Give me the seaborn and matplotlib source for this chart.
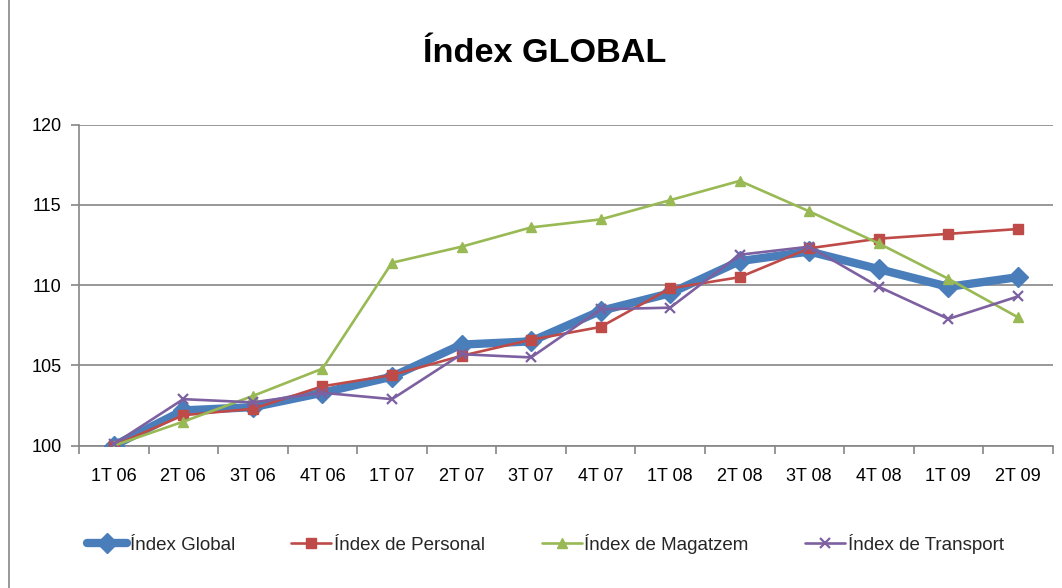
import numpy as np
import pandas as pd
import matplotlib
matplotlib.use("Agg")
import matplotlib.pyplot as plt
import seaborn as sns
from matplotlib.lines import Line2D

categories = ["1T 06", "2T 06", "3T 06", "4T 06", "1T 07", "2T 07", "3T 07",
              "4T 07", "1T 08", "2T 08", "3T 08", "4T 08", "1T 09", "2T 09"]
global_idx = [100.0, 102.2, 102.4, 103.3, 104.3, 106.3, 106.5, 108.4, 109.5, 111.5, 112.1, 111.0, 109.9, 110.5]
personal_idx = [100.0, 101.9, 102.3, 103.7, 104.4, 105.6, 106.6, 107.4, 109.8, 110.5, 112.3, 112.9, 113.2, 113.5]
magatzem_idx = [100.0, 101.5, 103.1, 104.8, 111.4, 112.4, 113.6, 114.1, 115.3, 116.5, 114.6, 112.6, 110.4, 108.0]
transport_idx = [100.1, 102.9, 102.7, 103.3, 102.9, 105.7, 105.5, 108.5, 108.6, 111.9, 112.4, 109.9, 107.9, 109.3]
series_names = ["Índex Global", "Índex de Personal", "Índex de Magatzem", "Índex de Transport"]
y_ticks = [100, 105, 110, 115, 120]

sns.set_theme(style="white")
plt.rcParams["font.family"] = ["Liberation Sans", "DejaVu Sans"]

W, H = 1062, 588
fig = plt.figure(figsize=(W / 100, H / 100), dpi=100)
ax = fig.add_axes([79 / W, 1 - 445.7 / H, (1052.7 - 79) / W, (445.7 - 124.7) / H])

xpos = np.arange(len(categories))
styles = [
    dict(color="#4A7EBB", lw=6, marker="D", ms=10.5, mec="#4A7EBB", mfc="#4A7EBB"),
    dict(color="#BE4B48", lw=1.9, marker="s", ms=6.5, mec="#BE4B48", mfc="#BE4B48"),
    dict(color="#98B954", lw=1.9, marker="^", ms=7.5, mec="#98B954", mfc="#98B954"),
    dict(color="#7D60A0", lw=1.9, marker="x", ms=7, mec="#7D60A0", mew=1.6),
]
for vals, name, st, z in zip([global_idx, personal_idx, magatzem_idx, transport_idx],
                             series_names, styles, [3, 4, 5, 6]):
    sns.lineplot(x=xpos, y=vals, ax=ax, sort=False, label=name,
                 linewidth=st["lw"], color=st["color"], marker=st["marker"],
                 markersize=st["ms"], markeredgecolor=st["mec"],
                 markerfacecolor=st.get("mfc", st["color"]),
                 markeredgewidth=st.get("mew", 1.0), zorder=z)

ax.set_xlim(-0.5, len(categories) - 0.5)
ax.set_ylim(100, 120)
ax.set_yticks(y_ticks)
ax.set_yticklabels([str(t) for t in y_ticks], fontsize=13, color="black")
ax.set_xticks(xpos)
ax.set_xticklabels(categories, fontsize=13, color="black")
ax.set_xticks(np.arange(-0.5, len(categories), 1.0), minor=True)
ax.tick_params(axis="x", which="major", length=0, pad=16)
ax.tick_params(axis="x", which="minor", length=6, width=1.2, color="#868686", direction="out", bottom=True)
ax.tick_params(axis="y", which="major", length=6, width=1.2, color="#868686", direction="out", pad=6.5, left=True)
ax.set_xlabel("")
ax.set_ylabel("")
ax.grid(False)
ax.yaxis.grid(True, color="#868686", linewidth=1.2)
ax.set_axisbelow(True)
for s in ["top", "right"]:
    ax.spines[s].set_visible(False)
for s in ["left", "bottom"]:
    ax.spines[s].set_color("#868686")
    ax.spines[s].set_linewidth(1.2)

handles, labels = ax.get_legend_handles_labels()
ax.get_legend().remove()
fig.legend(handles, labels, loc="center", bbox_to_anchor=(545.5 / W, 1 - 544 / H),
           ncol=4, frameon=False, fontsize=13.5, handlelength=2.13,
           handletextpad=0.16, columnspacing=3.0)

fig.text(545 / W, 1 - 54 / H, "Índex GLOBAL", ha="center", va="center",
         fontsize=24.7, fontweight="bold", color="black")

fig.add_artist(Line2D([9 / W, 9 / W], [0, 1], transform=fig.transFigure,
                      color="#868686", linewidth=1.2))

fig.savefig("out.png", dpi=100)
